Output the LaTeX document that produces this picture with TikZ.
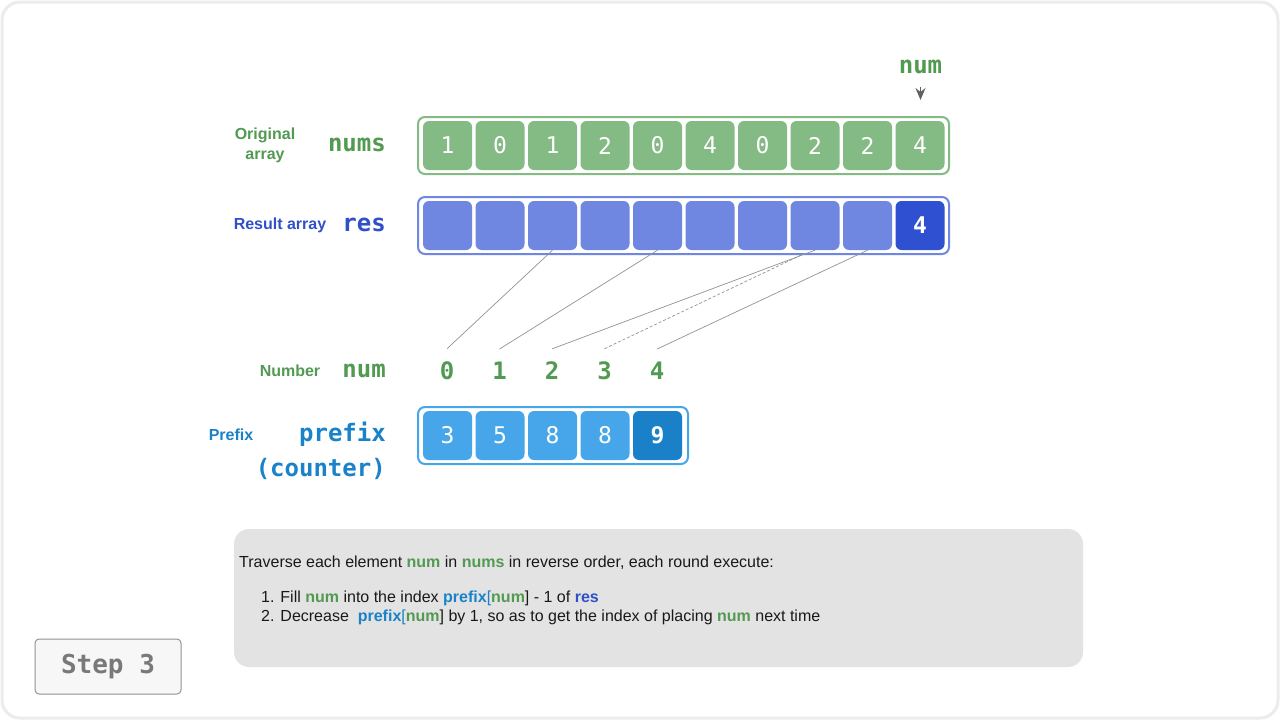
\documentclass[tikz,border=0pt]{standalone}
\usepackage{fontspec}
\setmainfont{Liberation Sans}
\setmonofont{DejaVu Sans Mono}
\usetikzlibrary{arrows.meta}

\definecolor{numgreen}{HTML}{529A52}
\definecolor{cellgreen}{HTML}{84BA84}
\definecolor{resblue}{HTML}{3050C8}
\definecolor{cellblue}{HTML}{6F87E0}
\definecolor{darkblue}{HTML}{2F50D0}
\definecolor{prefixblue}{HTML}{1A82C8}
\definecolor{cellsky}{HTML}{47A6EA}
\definecolor{darksky}{HTML}{1A80C8}
\definecolor{notegray}{HTML}{E3E3E3}

\begin{document}
\begin{tikzpicture}[x=1pt, y=-1pt,
		cell/.style={minimum size=49pt, inner sep=0pt, rounded corners=6pt, text=white, font=\ttfamily\fontsize{23}{26}\selectfont},
		gcell/.style={cell, fill=cellgreen},
		bcell/.style={cell, fill=cellblue},
		scell/.style={cell, fill=cellsky},
		hot/.style={font=\ttfamily\bfseries\fontsize{23}{26}\selectfont},
		code/.style={inner sep=0pt, font=\ttfamily\bfseries\fontsize{24}{28}\selectfont},
		label/.style={inner sep=0pt, align=center, font=\bfseries\fontsize{16}{19}\selectfont},
		link/.style={draw=gray!85, line width=0.7pt},
		body/.style={inner sep=0pt, anchor=west, text=black!90, font=\fontsize{16}{19}\selectfont}]
		
		% frame
		\fill[white] (0, 0) rectangle (1280, 720);
		\draw[gray!15, line width=3pt, rounded corners=18pt] (2, 2) rectangle (1278, 718);
		
		% pointer
		\node[code, text=numgreen] (ptr) at (920.5, 67) {num};
		\draw[gray!75!black, line width=1.6pt, -{Stealth[length=12pt, width=10pt, inset=4pt]}] (920.5, 87) -- (920.5, 100);
		
		% original array
		\node[label, text=numgreen] (lorig) at (265, 145) {Original\\[1pt]array};
		\node[code, text=numgreen, anchor=east] (lnums) at (386, 145) {nums};
		\draw[cellgreen, fill=white, line width=2pt, rounded corners=7pt] (418, 117) rectangle (949, 174);
		\node[gcell] (n0) at (447.5, 145.5) {1};
		\node[gcell] (n1) at (500, 145.5) {0};
		\node[gcell] (n2) at (552.5, 145.5) {1};
		\node[gcell] (n3) at (605, 145.5) {2};
		\node[gcell] (n4) at (657.5, 145.5) {0};
		\node[gcell] (n5) at (710, 145.5) {4};
		\node[gcell] (n6) at (762.5, 145.5) {0};
		\node[gcell] (n7) at (815, 145.5) {2};
		\node[gcell] (n8) at (867.5, 145.5) {2};
		\node[gcell] (n9) at (920, 145.5) {4};
		
		% result array
		\node[label, text=resblue] (lres) at (280, 225) {Result array};
		\node[code, text=resblue, anchor=east] (lresc) at (386, 225) {res};
		\draw[cellblue, fill=white, line width=2pt, rounded corners=7pt] (418, 197) rectangle (949, 254);
		\node[bcell] (r0) at (447.5, 225.5) {};
		\node[bcell] (r1) at (500, 225.5) {};
		\node[bcell] (r2) at (552.5, 225.5) {};
		\node[bcell] (r3) at (605, 225.5) {};
		\node[bcell] (r4) at (657.5, 225.5) {};
		\node[bcell] (r5) at (710, 225.5) {};
		\node[bcell] (r6) at (762.5, 225.5) {};
		\node[bcell] (r7) at (815, 225.5) {};
		\node[bcell] (r8) at (867.5, 225.5) {};
		\node[bcell, fill=darkblue, hot] (r9) at (920, 225.5) {4};
		
		% numbers
		\node[label, text=numgreen] (lnum) at (290, 371) {Number};
		\node[code, text=numgreen, anchor=east] (lnumc) at (386, 371) {num};
		\node[code, text=numgreen] (k0) at (447, 371) {0};
		\node[code, text=numgreen] (k1) at (499.5, 371) {1};
		\node[code, text=numgreen] (k2) at (552, 371) {2};
		\node[code, text=numgreen] (k3) at (604.5, 371) {3};
		\node[code, text=numgreen] (k4) at (657, 371) {4};
		
		\draw[link] ([yshift=13pt]k0.north) -- (r2.south);
		\draw[link] ([yshift=13pt]k1.north) -- (r4.south);
		\draw[link] ([yshift=13pt]k2.north) -- (r7.south);
		\draw[link, densely dashed] ([yshift=13pt]k3.north) -- ([xshift=-12pt, yshift=-4pt]r7.south);
		\draw[link] ([yshift=13pt]k4.north) -- (r8.south);
		
		% prefix array
		\node[label, text=prefixblue] (lpre) at (231, 435) {Prefix};
		\node[code, text=prefixblue, anchor=east] (lprec) at (386, 434) {prefix};
		\node[code, text=prefixblue, anchor=east] (lcount) at (386, 469) {(counter)};
		\draw[cellsky, fill=white, line width=2pt, rounded corners=7pt] (418, 407) rectangle (688, 464);
		\node[scell] (p0) at (447.5, 435.5) {3};
		\node[scell] (p1) at (500, 435.5) {5};
		\node[scell] (p2) at (552.5, 435.5) {8};
		\node[scell] (p3) at (605, 435.5) {8};
		\node[scell, fill=darksky, hot] (p4) at (657.5, 435.5) {9};
		
		% note
		\node[fill=notegray, rounded corners=15pt, minimum width=849pt, minimum height=138pt] (note) at (658.5, 598) {};
		\node[body] (t0) at (239, 563) {Traverse each element \textcolor{numgreen}{\textbf{num}} in \textcolor{numgreen}{\textbf{nums}} in reverse order, each round execute:};
		\node[body] (t1) at (261, 598) {1. Fill \textcolor{numgreen}{\textbf{num}} into the index \textcolor{prefixblue}{\textbf{prefix}[}\textcolor{numgreen}{\textbf{num}}] - 1 of \textcolor{resblue}{\textbf{res}}};
		\node[body] (t2) at (261, 617) {2. Decrease \ \textcolor{prefixblue}{\textbf{prefix}[}\textcolor{numgreen}{\textbf{num}}] by 1, so as to get the index of placing \textcolor{numgreen}{\textbf{num}} next time};
		
		% step
		\node[draw=gray!85, line width=1pt, fill=gray!6, rounded corners=4pt, minimum width=146pt, minimum height=55pt, text=gray!95!black, font=\ttfamily\bfseries\fontsize{26}{30}\selectfont] (step) at (108, 666.5) {Step 3};
	\end{tikzpicture}
\end{document}
